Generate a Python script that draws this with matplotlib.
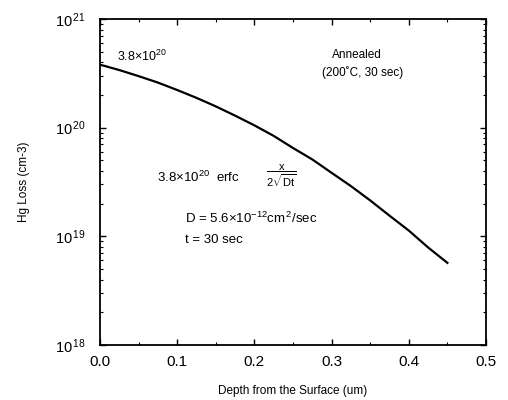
import matplotlib
matplotlib.use("Agg")
import matplotlib.pyplot as plt
from matplotlib.ticker import FixedLocator, LogLocator, MultipleLocator, NullFormatter

plt.rcParams['font.family'] = ['Liberation Sans', 'DejaVu Sans']
plt.rcParams['mathtext.fontset'] = 'custom'
plt.rcParams['mathtext.rm'] = 'Liberation Sans'
plt.rcParams['mathtext.it'] = 'Liberation Sans'
plt.rcParams['mathtext.bf'] = 'Liberation Sans:bold'

depth_um = [0.0, 0.025, 0.05, 0.075, 0.1, 0.125, 0.15, 0.175, 0.2, 0.225,
            0.25, 0.275, 0.3, 0.325, 0.35, 0.375, 0.4, 0.425, 0.45]
hg_loss = [3.8e20, 3.39e20, 2.98e20, 2.60e20, 2.22e20, 1.88e20, 1.57e20, 1.29e20,
           1.05e20, 8.4e19, 6.5e19, 5.1e19, 3.84e19, 2.9e19, 2.14e19, 1.55e19,
           1.13e19, 7.9e18, 5.7e18]
x_ticks = [0.0, 0.1, 0.2, 0.3, 0.4, 0.5]
x_ticklabels = ['0.0', '0.1', '0.2', '0.3', '0.4', '0.5']
y_ticks = [1e18, 1e19, 1e20, 1e21]
y_ticklabels = [r'$\mathregular{10^{\,18}}$', r'$\mathregular{10^{\,19}}$',
                r'$\mathregular{10^{\,20}}$', r'$\mathregular{10^{\,21}}$']

fig = plt.figure(figsize=(5.08, 4.0), dpi=100)
ax = fig.add_axes([100/508, 1-345/400, 386/508, 326/400])
ax.plot(depth_um, hg_loss, color='black', lw=1.6)
ax.set_yscale('log')
ax.set_xlim(0, 0.5)
ax.set_ylim(1e18, 1e21)

ax.xaxis.set_major_locator(FixedLocator(x_ticks))
ax.set_xticklabels(x_ticklabels)
ax.xaxis.set_minor_locator(MultipleLocator(0.05))
ax.yaxis.set_major_locator(FixedLocator(y_ticks))
ax.set_yticklabels(y_ticklabels)
ax.yaxis.set_minor_locator(LogLocator(base=10, subs=range(2, 10)))
ax.yaxis.set_minor_formatter(NullFormatter())

ax.tick_params(which='both', direction='in', top=True, right=True, colors='black')
ax.tick_params(which='major', length=4, width=1, labelsize=11, pad=7)
ax.tick_params(axis='y', which='major', labelsize=10.5, pad=10)
ax.tick_params(which='minor', length=2.5, width=0.8)
for s in ax.spines.values():
    s.set_linewidth(1.3)

ax.set_xlabel('Depth from the Surface (um)', fontsize=8.5, labelpad=12)
ax.set_ylabel('Hg Loss (cm-3)', fontsize=8.5, labelpad=18)

ax.text(0.045, 0.872, r'3.8$\times$10$^{20}$', transform=ax.transAxes, fontsize=9)
ax.text(0.60, 0.88, 'Annealed', transform=ax.transAxes, fontsize=8.5)
ax.text(0.575, 0.825, '(200˚C, 30 sec)', transform=ax.transAxes, fontsize=8.5)
ax.text(0.147, 0.515, r'3.8$\times$10$^{20}$  erfc',
        transform=ax.transAxes, fontsize=9.5, va='center')
ax.text(0.47, 0.52, r'$\dfrac{x}{2\sqrt{Dt}}$',
        transform=ax.transAxes, fontsize=8, va='center', ha='center')
ax.text(0.219, 0.373, r'D = 5.6$\times$10$^{-12}$cm$^{\,2}$/sec', transform=ax.transAxes, fontsize=9.5)
ax.text(0.219, 0.312, 't = 30 sec', transform=ax.transAxes, fontsize=9.5)

fig.savefig('out.png', dpi=100)
